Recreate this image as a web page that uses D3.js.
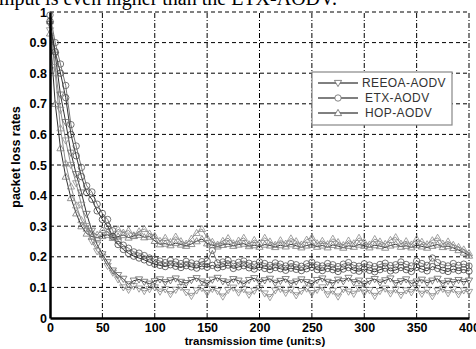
<!DOCTYPE html>
<html>
<head>
<meta charset="utf-8">
<script src="https://cdn.jsdelivr.net/npm/d3@7"></script>
<style>
  body { margin: 0; background: #fff; }
  svg { display: block; }
</style>
</head>
<body>
<svg id="chart" width="476" height="349"></svg>
<script>
// sampling times (s)
const times = [0,5,10,15,20,25,30,35,40,45,50,55,60,65,70,75,80,85,90,95,
  100,105,110,115,120,125,130,135,140,145,150,155,160,165,170,175,180,185,190,195,
  200,205,210,215,220,225,230,235,240,245,250,255,260,265,270,275,280,285,290,295,
  300,305,310,315,320,325,330,335,340,345,350,355,360,365,370,375,380,385,390,395,400];

// HOP-AODV, two runs
const hopA = [0.970,0.800,0.620,0.505,0.430,0.368,0.320,0.292,0.280,0.272,
  0.288,0.281,0.268,0.290,0.279,0.286,0.270,0.283,0.291,0.276,
  0.268,0.252,0.262,0.248,0.266,0.251,0.243,0.259,0.278,0.291,
  0.262,0.249,0.240,0.252,0.261,0.244,0.253,0.262,0.241,0.255,
  0.246,0.262,0.250,0.239,0.254,0.243,0.260,0.251,0.240,0.256,
  0.263,0.244,0.252,0.241,0.259,0.248,0.238,0.253,0.244,0.262,
  0.249,0.240,0.258,0.250,0.242,0.255,0.264,0.243,0.251,0.240,
  0.258,0.249,0.241,0.254,0.262,0.243,0.250,0.239,0.232,0.224,0.212];
const hopB = [0.930,0.700,0.555,0.462,0.392,0.342,0.300,0.276,0.266,0.262,
  0.268,0.272,0.262,0.266,0.271,0.263,0.268,0.272,0.264,0.266,
  0.252,0.241,0.243,0.238,0.245,0.240,0.236,0.242,0.251,0.258,
  0.244,0.238,0.234,0.239,0.242,0.236,0.240,0.243,0.235,0.238,
  0.233,0.240,0.237,0.232,0.238,0.234,0.241,0.236,0.231,0.237,
  0.240,0.233,0.237,0.231,0.239,0.235,0.230,0.236,0.233,0.240,
  0.236,0.231,0.238,0.235,0.230,0.237,0.241,0.233,0.236,0.231,
  0.238,0.234,0.230,0.236,0.240,0.232,0.235,0.229,0.222,0.214,0.204];

// ETX-AODV, two runs
const etxA = [0.990,0.900,0.830,0.760,0.632,0.562,0.492,0.432,0.412,0.372,
  0.342,0.322,0.285,0.252,0.238,0.228,0.216,0.212,0.204,0.196,
  0.192,0.186,0.181,0.188,0.183,0.178,0.185,0.180,0.176,0.184,
  0.186,0.221,0.180,0.183,0.188,0.177,0.182,0.186,0.179,0.175,
  0.183,0.178,0.172,0.180,0.176,0.170,0.178,0.174,0.169,0.177,
  0.182,0.173,0.170,0.178,0.174,0.168,0.176,0.181,0.172,0.169,
  0.177,0.173,0.168,0.175,0.179,0.171,0.174,0.183,0.175,0.170,
  0.186,0.178,0.172,0.196,0.181,0.174,0.170,0.178,0.172,0.176,0.170];
const etxB = [0.970,0.870,0.800,0.720,0.600,0.530,0.462,0.410,0.388,0.350,
  0.322,0.300,0.266,0.240,0.224,0.211,0.202,0.196,0.190,0.182,
  0.176,0.172,0.168,0.174,0.169,0.165,0.171,0.167,0.163,0.170,
  0.166,0.172,0.164,0.168,0.173,0.162,0.167,0.171,0.164,0.160,
  0.167,0.162,0.158,0.165,0.161,0.156,0.163,0.159,0.155,0.161,
  0.166,0.158,0.155,0.162,0.158,0.152,0.160,0.165,0.156,0.153,
  0.160,0.156,0.151,0.158,0.163,0.154,0.157,0.165,0.158,0.152,
  0.166,0.160,0.154,0.168,0.162,0.156,0.152,0.160,0.155,0.158,0.153];

// REEOA-AODV, two runs
const reeoaA = [0.960,0.860,0.730,0.640,0.540,0.470,0.410,0.340,0.285,0.240,
  0.208,0.182,0.155,0.140,0.128,0.110,0.122,0.126,0.118,0.112,
  0.120,0.126,0.117,0.123,0.129,0.118,0.114,0.124,0.130,0.119,
  0.113,0.125,0.131,0.120,0.116,0.127,0.122,0.112,0.124,0.130,
  0.118,0.123,0.128,0.115,0.121,0.127,0.113,0.119,0.126,0.117,
  0.112,0.124,0.129,0.118,0.114,0.125,0.120,0.131,0.117,0.122,
  0.110,0.121,0.127,0.116,0.123,0.129,0.114,0.120,0.126,0.113,
  0.119,0.125,0.115,0.122,0.128,0.113,0.121,0.117,0.124,0.118,0.122];
const reeoaB = [0.940,0.820,0.680,0.580,0.500,0.440,0.370,0.300,0.250,0.218,
  0.200,0.170,0.148,0.126,0.100,0.092,0.104,0.096,0.088,0.094,
  0.100,0.086,0.094,0.078,0.092,0.101,0.084,0.072,0.090,0.098,
  0.082,0.095,0.088,0.070,0.091,0.099,0.083,0.094,0.076,0.089,
  0.097,0.080,0.068,0.090,0.095,0.082,0.093,0.074,0.088,0.096,
  0.081,0.092,0.100,0.077,0.089,0.070,0.094,0.086,0.079,0.097,
  0.083,0.091,0.072,0.088,0.096,0.080,0.093,0.075,0.090,0.084,
  0.098,0.079,0.092,0.071,0.089,0.095,0.081,0.094,0.077,0.090,0.085];

const xTicks = [0,50,100,150,200,250,300,350,400];
const yTicks = [0,0.1,0.2,0.3,0.4,0.5,0.6,0.7,0.8,0.9,1];
const legendNames = ['REEOA-AODV', 'ETX-AODV', 'HOP-AODV'];
const legendMarks = ['down', 'circle', 'up'];

const svg = d3.select('#chart');
const x = d3.scaleLinear().domain([0, 400]).range([50, 469]);
const y = d3.scaleLinear().domain([0, 1]).range([318, 12]);

// cut-off caption line from the page above
svg.append('text')
  .attr('x', -1)
  .attr('y', 5)
  .style('font-family', 'Liberation Serif, serif')
  .style('font-size', '20px')
  .text('mput is even higher than the ETX-AODV.');

// grid
svg.append('g')
  .selectAll('line')
  .data(yTicks.slice(1))
  .enter().append('line')
  .attr('x1', x(0)).attr('x2', x(400))
  .attr('y1', d => y(d)).attr('y2', d => y(d))
  .attr('stroke', '#000')
  .attr('stroke-width', 1)
  .attr('stroke-dasharray', '4,3');

svg.append('g')
  .selectAll('line')
  .data(xTicks.slice(1))
  .enter().append('line')
  .attr('x1', d => x(d)).attr('x2', d => x(d))
  .attr('y1', y(0)).attr('y2', y(1))
  .attr('stroke', '#000')
  .attr('stroke-width', 1)
  .attr('stroke-dasharray', '5,2,1,2');

function markerPath(type) {
  if (type === 'up') return 'M0,-3.6L3.6,2.6L-3.6,2.6Z';
  if (type === 'down') return 'M0,3.6L3.6,-2.6L-3.6,-2.6Z';
  return d3.arc()({ innerRadius: 0, outerRadius: 3.2, startAngle: 0, endAngle: 2 * Math.PI });
}

const runs = [
  { values: reeoaB, mark: 'down', line: '#8c8c8c', stroke: '#8a8a8a' },
  { values: hopA, mark: 'up', line: '#8c8c8c', stroke: '#8a8a8a' },
  { values: etxA, mark: 'circle', line: '#777', stroke: '#555' },
  { values: reeoaA, mark: 'down', line: '#333', stroke: '#666' },
  { values: etxB, mark: 'circle', line: '#333', stroke: '#444' },
  { values: hopB, mark: 'up', line: '#333', stroke: '#777' }
];

const line = d3.line()
  .x((d, i) => x(times[i]))
  .y(d => y(d));

runs.forEach(r => {
  svg.append('path')
    .datum(r.values)
    .attr('fill', 'none')
    .attr('stroke', r.line)
    .attr('stroke-width', 1)
    .attr('d', line);
});

runs.forEach(r => {
  svg.append('g')
    .selectAll('path')
    .data(r.values)
    .enter().append('path')
    .attr('transform', (d, i) => `translate(${x(times[i])},${y(d)})`)
    .attr('d', markerPath(r.mark))
    .attr('fill', 'none')
    .attr('stroke', r.stroke)
    .attr('stroke-width', 0.8);
});

// axes
const xAxis = svg.append('g')
  .attr('transform', `translate(0,${y(0)})`)
  .call(d3.axisBottom(x).tickValues(xTicks).tickSize(0).tickPadding(5).tickFormat(d3.format('d')));
xAxis.select('.domain').attr('stroke', '#000').attr('stroke-width', 2.5);
xAxis.selectAll('text')
  .style('font-family', 'Liberation Sans, Arial, sans-serif')
  .style('font-weight', 'bold')
  .style('font-size', '12.5px')
  .attr('fill', '#000');

const yAxis = svg.append('g')
  .attr('transform', `translate(${x(0)},0)`)
  .call(d3.axisLeft(y).tickValues(yTicks).tickSize(0).tickPadding(3).tickFormat(d3.format('~g')));
yAxis.select('.domain').attr('stroke', '#000').attr('stroke-width', 2.5);
yAxis.selectAll('text')
  .style('font-family', 'Liberation Sans, Arial, sans-serif')
  .style('font-weight', 'bold')
  .style('font-size', '12.5px')
  .attr('fill', '#000');

svg.append('text')
  .attr('x', 255)
  .attr('y', 345)
  .attr('text-anchor', 'middle')
  .style('font-family', 'Liberation Sans, Arial, sans-serif')
  .style('font-weight', 'bold')
  .style('font-size', '11.5px')
  .text('transmission time (unit:s)');

svg.append('text')
  .attr('transform', 'translate(20,157) rotate(-90)')
  .attr('text-anchor', 'middle')
  .style('font-family', 'Liberation Sans, Arial, sans-serif')
  .style('font-weight', 'bold')
  .style('font-size', '12.5px')
  .text('packet loss rates');

// legend
const legend = svg.append('g').attr('transform', 'translate(312,72)');
legend.append('rect')
  .attr('width', 140)
  .attr('height', 53)
  .attr('fill', '#fff')
  .attr('stroke', '#888')
  .attr('stroke-width', 1.2);

const item = legend.selectAll('.item')
  .data(legendNames)
  .enter().append('g')
  .attr('class', 'item')
  .attr('transform', (d, i) => `translate(0,${11 + i * 15})`);

item.append('line')
  .attr('x1', 6).attr('x2', 46)
  .attr('stroke', '#000')
  .attr('stroke-width', 1);

item.append('path')
  .attr('transform', 'translate(26,0)')
  .attr('d', (d, i) => markerPath(legendMarks[i]))
  .attr('fill', '#fff')
  .attr('stroke', '#666')
  .attr('stroke-width', 0.8);

item.append('text')
  .attr('x', (d, i) => i === 0 ? 50 : 53)
  .attr('dy', '0.36em')
  .style('font-family', 'Liberation Sans, Arial, sans-serif')
  .style('font-size', '12px')
  .style('letter-spacing', '0.4px')
  .attr('fill', '#333')
  .text(d => d);
</script>
</body>
</html>
